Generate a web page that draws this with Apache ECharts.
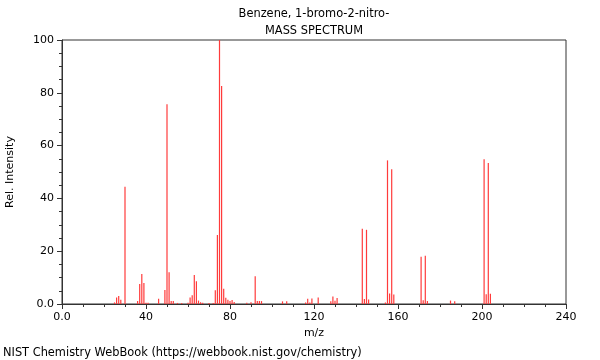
<!DOCTYPE html>
<html><head><meta charset="utf-8">
<script src="https://cdn.jsdelivr.net/npm/echarts@6/dist/echarts.min.js"></script>
<style>html,body{margin:0;padding:0;background:#fff}#c{width:600px;height:360px}</style>
</head><body><div id="c"></div>
<script>
const titleLines = ["Benzene, 1-bromo-2-nitro-", "MASS SPECTRUM"];
const mz = [25,26,27,28,30,36,37,38,39,40,41,46,49,50,51,52,53,55,57,60,61,62,63,64,65,66,67,70,72,73,74,75,76,77,78,79,80,81,82,88,90,92,93,94,95,105,107,116,117,118,119,122,128,129,130,131,143,144,145,146,154,155,156,157,158,171,172,173,174,185,187,201,202,203,204];
const intensity = [0.6,2.5,3.0,1.6,44.4,1.1,7.6,11.4,8.0,0.5,0.5,2.0,5.3,75.7,12.0,1.1,1.1,0.4,0.4,0.5,2.5,3.3,11.0,8.6,1.3,0.7,0.5,0.4,0.4,5.2,26.1,100,82.6,5.8,2.4,1.6,1.1,1.5,0.8,0.5,0.7,10.5,1.1,1.1,1.1,1.0,1.0,0.6,2.0,0.6,2.1,2.5,1.0,2.8,1.2,2.3,28.5,1.9,28.1,1.7,0.6,54.4,4.0,51.0,3.6,17.9,1.4,18.3,1.1,1.3,1.0,54.8,3.7,53.4,3.9];
const xName = "m/z", yName = "Rel. Intensity";
const credit = "NIST Chemistry WebBook (https://webbook.nist.gov/chemistry)";

const font = "DejaVu Sans";
const chart = echarts.init(document.getElementById('c'));
const fmt = v => v === 0 ? "0.0" : String(v);
const txt = (t, x, y, align, size) => ({type: 'text', x: x, y: y, style: {text: t, fill: '#000', fontFamily: font, fontSize: size, align: align, verticalAlign: 'middle'}});
chart.setOption({
  animation: false,
  grid: {left: 62, right: 34, top: 40, bottom: 56, show: true, borderColor: '#333', borderWidth: 1, outerBoundsMode: 'none', containLabel: false},
  graphic: [
    txt(titleLines[0], 314, 14, 'center', 11.4),
    txt(titleLines[1], 314, 31, 'center', 11.4),
    txt(credit, 3, 353, 'left', 11.4)
  ],
  xAxis: {
    type: 'value', min: 0, max: 240, interval: 40,
    name: xName, nameLocation: 'middle', nameGap: 23,
    nameTextStyle: {fontFamily: font, fontSize: 11, color: '#000'},
    axisLine: {show: true, lineStyle: {color: '#333'}},
    axisTick: {show: true, length: 5, lineStyle: {color: '#333'}},
    minorTick: {show: true, splitNumber: 4, length: 3, lineStyle: {color: '#333'}},
    splitLine: {show: false},
    axisLabel: {fontFamily: font, fontSize: 11, color: '#000', margin: 8, formatter: fmt}
  },
  yAxis: {
    type: 'value', min: 0, max: 100, interval: 20,
    name: yName, nameLocation: 'middle', nameGap: 46, nameRotate: 90,
    nameTextStyle: {fontFamily: font, fontSize: 11, color: '#000'},
    axisLine: {show: true, lineStyle: {color: '#333'}},
    axisTick: {show: true, length: 5, lineStyle: {color: '#333'}},
    minorTick: {show: true, splitNumber: 4, length: 3, lineStyle: {color: '#333'}},
    splitLine: {show: false},
    axisLabel: {fontFamily: font, fontSize: 11, color: '#000', margin: 8, formatter: fmt}
  },
  series: [{
    type: 'bar', barWidth: 1.2,
    itemStyle: {color: '#ff3b3b'},
    data: mz.map((m, i) => [m, intensity[i]])
  }]
});
</script></body></html>
